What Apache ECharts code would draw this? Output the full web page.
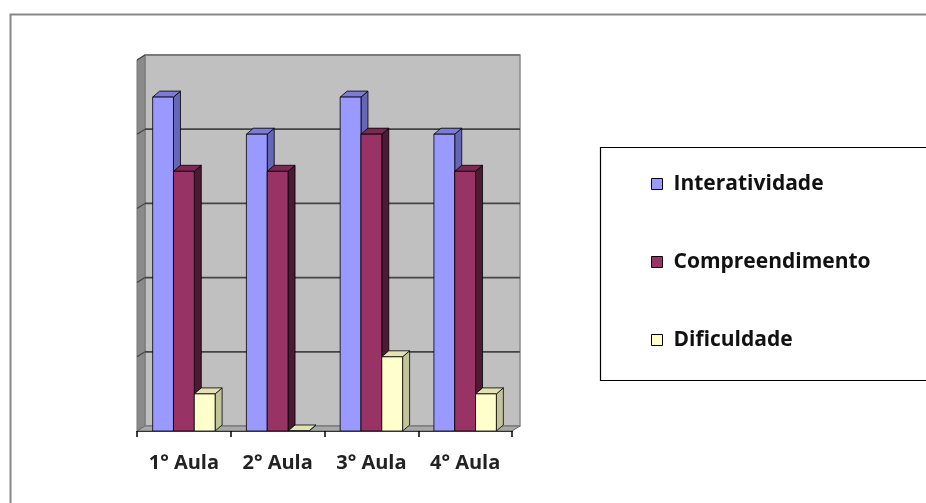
<!DOCTYPE html>
<html><head><meta charset="utf-8">
<script src="https://cdn.jsdelivr.net/npm/echarts@6/dist/echarts.min.js"></script>
<style>html,body{margin:0;padding:0;background:#fff}#c{width:926px;height:503px}</style>
</head><body><div id="c"></div>
<script>
const categories = ['1° Aula', '2° Aula', '3° Aula', '4° Aula'];
const interatividade = [9, 8, 9, 8];
const compreendimento = [7, 7, 8, 7];
const dificuldade = [1, 0, 2, 1];
const yTicks = [0, 2, 4, 6, 8, 10];
const seriesNames = ['Interatividade', 'Compreendimento', 'Dificuldade'];

const DX = 8, DY = -5;      // wall depth
const BDX = 7, BDY = -6;    // bar depth
const faces = [
  { front: '#9999FF', side: '#6666B8', top: '#7C7CD6' },
  { front: '#993366', side: '#4D1A33', top: '#7A2952' },
  { front: '#FFFFCC', side: '#C4C49C', top: '#E2E2B4' }
];

function barRender(sIdx) {
  return function (params, api) {
    const cat = api.value(0), val = api.value(1);
    const top = api.coord([cat, val]);
    const base = api.coord([cat, 0]);
    const catW = api.size([1, 0])[0];
    const bw = catW * 0.222;
    const x0 = base[0] - 1.5 * bw + sIdx * bw;
    const x1 = x0 + bw;
    const yb = base[1], yt = top[1];
    const f = faces[sIdx];
    const st = { stroke: '#000', lineWidth: 0.8 };
    return {
      type: 'group',
      children: [
        { type: 'polygon', shape: { points: [[x1, yb], [x1 + BDX, yb + BDY], [x1 + BDX, yt + BDY], [x1, yt]] }, style: Object.assign({ fill: f.side }, st) },
        { type: 'polygon', shape: { points: [[x0, yt], [x0 + BDX, yt + BDY], [x1 + BDX, yt + BDY], [x1, yt]] }, style: Object.assign({ fill: f.top }, st) },
        { type: 'rect', shape: { x: x0, y: yt, width: bw, height: yb - yt }, style: Object.assign({ fill: f.front }, st) }
      ]
    };
  };
}

function wallRender(params, api) {
  const cs = params.coordSys;
  const L = cs.x, R = cs.x + cs.width, T = cs.y, B = cs.y + cs.height;
  const ch = [];
  ch.push({ type: 'rect', shape: { x: L + DX, y: T + DY, width: R - L, height: B - T }, style: { fill: '#C0C0C0', stroke: '#8A8A8A', lineWidth: 1.5 } });
  ch.push({ type: 'polygon', shape: { points: [[L, B], [L + DX, B + DY], [L + DX, T + DY], [L, T]] }, style: { fill: '#8A8A8A', stroke: '#767676', lineWidth: 1 } });
  ch.push({ type: 'polygon', shape: { points: [[L, B], [L + DX, B + DY], [R + DX, B + DY], [R, B]] }, style: { fill: '#A8A8A8', stroke: '#6A6A6A', lineWidth: 1 } });
  yTicks.forEach(function (v) {
    const y = api.coord([0, v])[1];
    if (v > 0 && v < yTicks[yTicks.length - 1]) {
      ch.push({ type: 'line', shape: { x1: L + DX, y1: y + DY, x2: R + DX, y2: y + DY }, style: { stroke: '#444', lineWidth: 1.8 } });
    }
    if (v > 0) {
      ch.push({ type: 'line', shape: { x1: L, y1: y, x2: L + DX, y2: y + DY }, style: { stroke: '#444', lineWidth: 1.2 } });
    }
  });
  ch.push({ type: 'line', shape: { x1: L + DX, y1: T + DY, x2: R + DX, y2: T + DY }, style: { stroke: '#7A7A7A', lineWidth: 2 } });
  return { type: 'group', children: ch };
}

const chart = echarts.init(document.getElementById('c'));
chart.setOption({
  animation: false,
  backgroundColor: '#fff',
  grid: { left: 137, top: 60, width: 375, height: 371 },
  xAxis: {
    type: 'category', data: categories, boundaryGap: true,
    axisLine: { show: true, lineStyle: { color: '#333', width: 1.2 } },
    axisTick: { show: true, interval: 0, length: 6, lineStyle: { color: '#000', width: 1.5 } },
    axisLabel: { interval: 0, margin: 22, fontFamily: 'Open Sans', fontWeight: 'bold', fontSize: 20, color: '#222' },
    z: 5
  },
  yAxis: {
    type: 'value', min: 0, max: 10, interval: 2,
    axisLine: { show: false }, axisTick: { show: false }, axisLabel: { show: false }, splitLine: { show: false }
  },
  legend: {
    orient: 'vertical', left: 651, top: 173, padding: 0,
    itemWidth: 11, itemHeight: 11, itemGap: 56,
    icon: 'rect',
    data: seriesNames,
    itemStyle: { borderColor: '#000', borderWidth: 1 },
    textStyle: { fontFamily: 'Open Sans', fontWeight: 'bold', fontSize: 21, color: '#111', lineHeight: 22, padding: [0, 0, 0, 6] }
  },
  graphic: [
    { type: 'rect', left: 8, top: 12, shape: { width: 940, height: 520 }, style: { fill: 'none', stroke: '#888', lineWidth: 2 }, z: 100 },
    { type: 'rect', left: 598, top: 145, shape: { width: 340, height: 233 }, style: { fill: 'none', stroke: '#000', lineWidth: 1.2 }, z: 100 }
  ],
  series: [
    { type: 'custom', name: 'walls', renderItem: wallRender, data: [[0, 0]], z: 1, silent: true, legendHoverLink: false },
    { type: 'custom', name: seriesNames[0], renderItem: barRender(0), data: interatividade.map((v, i) => [i, v]), z: 2, itemStyle: { color: faces[0].front } },
    { type: 'custom', name: seriesNames[1], renderItem: barRender(1), data: compreendimento.map((v, i) => [i, v]), z: 2, itemStyle: { color: faces[1].front } },
    { type: 'custom', name: seriesNames[2], renderItem: barRender(2), data: dificuldade.map((v, i) => [i, v]), z: 2, itemStyle: { color: faces[2].front } }
  ]
});
</script></body></html>
